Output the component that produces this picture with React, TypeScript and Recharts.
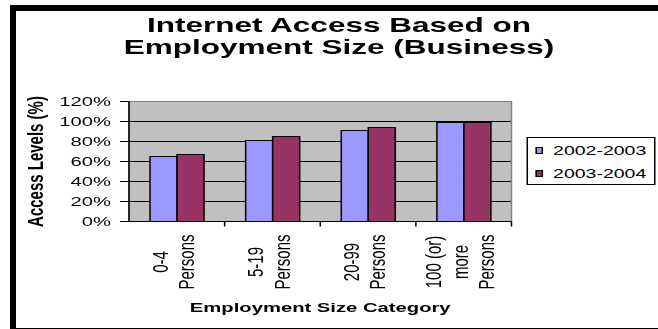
import { BarChart, Bar, XAxis, YAxis, CartesianGrid, Legend, Label, ReferenceArea } from 'recharts';

const categories = ['0-4 Persons', '5-19 Persons', '20-99 Persons', '100 (or) more Persons'];
const categoryLines = [['0-4', 'Persons'], ['5-19', 'Persons'], ['20-99', 'Persons'], ['100 (or)', 'more', 'Persons']];
const seriesNames = ['2002-2003', '2003-2004'];
const access2002 = [65, 81, 91, 99];
const access2003 = [67, 85, 94, 99];
const yTicks = [0, 20, 40, 60, 80, 100, 120];
const gridValues = [0, 20, 40, 60, 80, 100];

const data = categories.map((category, i) => ({
  category,
  a: access2002[i],
  b: access2003[i],
}));

const FONT = '"Liberation Sans", Arial, sans-serif';
const COLORS = ['#9999FF', '#993366'];
// the original picture is stretched sideways, so the whole chart is drawn narrow and scaled
const STRETCH = 1.5;

function CategoryTick(props: any) {
  const { x, y, payload } = props;
  const idx = categories.indexOf(payload.value);
  const lines = categoryLines[idx] ?? [String(payload.value)];
  const half = payload.offset ?? 0;
  const n = lines.length;
  return (
    <g>
      <line x1={x + half} y1={y} x2={x + half} y2={y + 5} stroke="#000" />
      {lines.map((ln, i) => {
        const dx = (i - (n - 1) / 2) * 17.5 + 2.7;
        return (
          <text
            key={i}
            transform={`translate(${x + dx},262) rotate(-90)`}
            textAnchor="middle"
            fontSize={15}
            fontFamily={FONT}
            fill="#000"
          >
            {ln}
          </text>
        );
      })}
    </g>
  );
}

function LegendBox(props: any) {
  const items = props.payload ?? [];
  return (
    <div
      style={{
        boxSizing: 'border-box',
        width: 86,
        height: 48,
        border: '1px solid #000',
        background: '#fff',
        paddingTop: 1,
        fontFamily: FONT,
        fontSize: 13,
        color: '#000',
      }}
    >
      {items.map((it: any) => (
        <div key={it.value} style={{ display: 'flex', alignItems: 'center', height: 23 }}>
          <span
            style={{
              boxSizing: 'border-box',
              display: 'inline-block',
              width: 5.5,
              height: 7,
              marginLeft: 5,
              marginRight: 6.5,
              border: '1px solid #000',
              background: it.color,
            }}
          />
          <span>{it.value}</span>
        </div>
      ))}
    </div>
  );
}

export default function App() {
  return (
    <div style={{ position: 'absolute', left: 0, top: 0, width: 658, height: 329, overflow: 'hidden', background: '#fff' }}>
      <div
        style={{
          position: 'absolute',
          left: 0,
          top: 0,
          width: 439,
          height: 329,
          transform: `scaleX(${STRETCH})`,
          transformOrigin: '0 0',
        }}
      >
        <div
          style={{
            position: 'absolute',
            left: 0,
            top: 13.5,
            width: 452,
            textAlign: 'center',
            fontFamily: FONT,
            fontWeight: 'bold',
            fontSize: 21,
            lineHeight: '22.5px',
            color: '#000',
          }}
        >
          Internet Access Based on
          <br />
          Employment Size (Business)
        </div>
        <BarChart
          width={439}
          height={329}
          data={data}
          margin={{ top: 101.5, right: 98, bottom: 0, left: 0 }}
          barCategoryGap="22%"
          barGap={0}
        >
          <CartesianGrid vertical={false} horizontalValues={gridValues} stroke="#000" fill="#C0C0C0" fillOpacity={1} />
          <ReferenceArea y1={0} y2={120} fill="none" stroke="#808080" />
          <XAxis
            dataKey="category"
            height={107.5}
            interval={0}
            tickLine={false}
            tickSize={0}
            tickMargin={0}
            axisLine={{ stroke: '#000' }}
            tick={<CategoryTick />}
          >
            <Label
              content={(p: any) => (
                <text
                  x={p.viewBox.x + p.viewBox.width / 2}
                  y={p.viewBox.y + 91}
                  textAnchor="middle"
                  fontFamily={FONT}
                  fontWeight="bold"
                  fontSize={13.5}
                  fill="#000"
                >
                  Employment Size Category
                </text>
              )}
            />
          </XAxis>
          <YAxis
            width={86}
            domain={[0, 120]}
            ticks={yTicks}
            interval={0}
            tickFormatter={(v: number) => `${v}%`}
            tickSize={6}
            tickMargin={6}
            axisLine={{ stroke: '#000' }}
            tickLine={{ stroke: '#000' }}
            tick={{ fill: '#000', fontSize: 13.5, fontFamily: FONT }}
          >
            <Label
              content={(p: any) => {
                const cx = p.viewBox.x + 23.3;
                const cy = p.viewBox.y + p.viewBox.height / 2;
                return (
                  <text
                    x={cx}
                    y={cy}
                    transform={`rotate(-90 ${cx} ${cy})`}
                    textAnchor="middle"
                    dominantBaseline="central"
                    fontFamily={FONT}
                    fontWeight="bold"
                    fontSize={15}
                    fill="#000"
                  >
                    Access Levels (%)
                  </text>
                );
              }}
            />
          </YAxis>
          <Legend
            layout="vertical"
            align="center"
            verticalAlign="middle"
            content={<LegendBox />}
            wrapperStyle={{ left: 350.7, top: 137, width: 86, height: 48 }}
          />
          <Bar dataKey="a" name={seriesNames[0]} fill={COLORS[0]} stroke="#000" strokeWidth={1} isAnimationActive={false} />
          <Bar dataKey="b" name={seriesNames[1]} fill={COLORS[1]} stroke="#000" strokeWidth={1} isAnimationActive={false} />
        </BarChart>
      </div>
      <div
        style={{
          position: 'absolute',
          left: 10,
          top: 5,
          width: 680,
          height: 324,
          boxSizing: 'border-box',
          borderLeft: '6px solid #000',
          borderTop: '6px solid #000',
          borderBottom: '1.5px solid #000',
          pointerEvents: 'none',
        }}
      />
    </div>
  );
}
